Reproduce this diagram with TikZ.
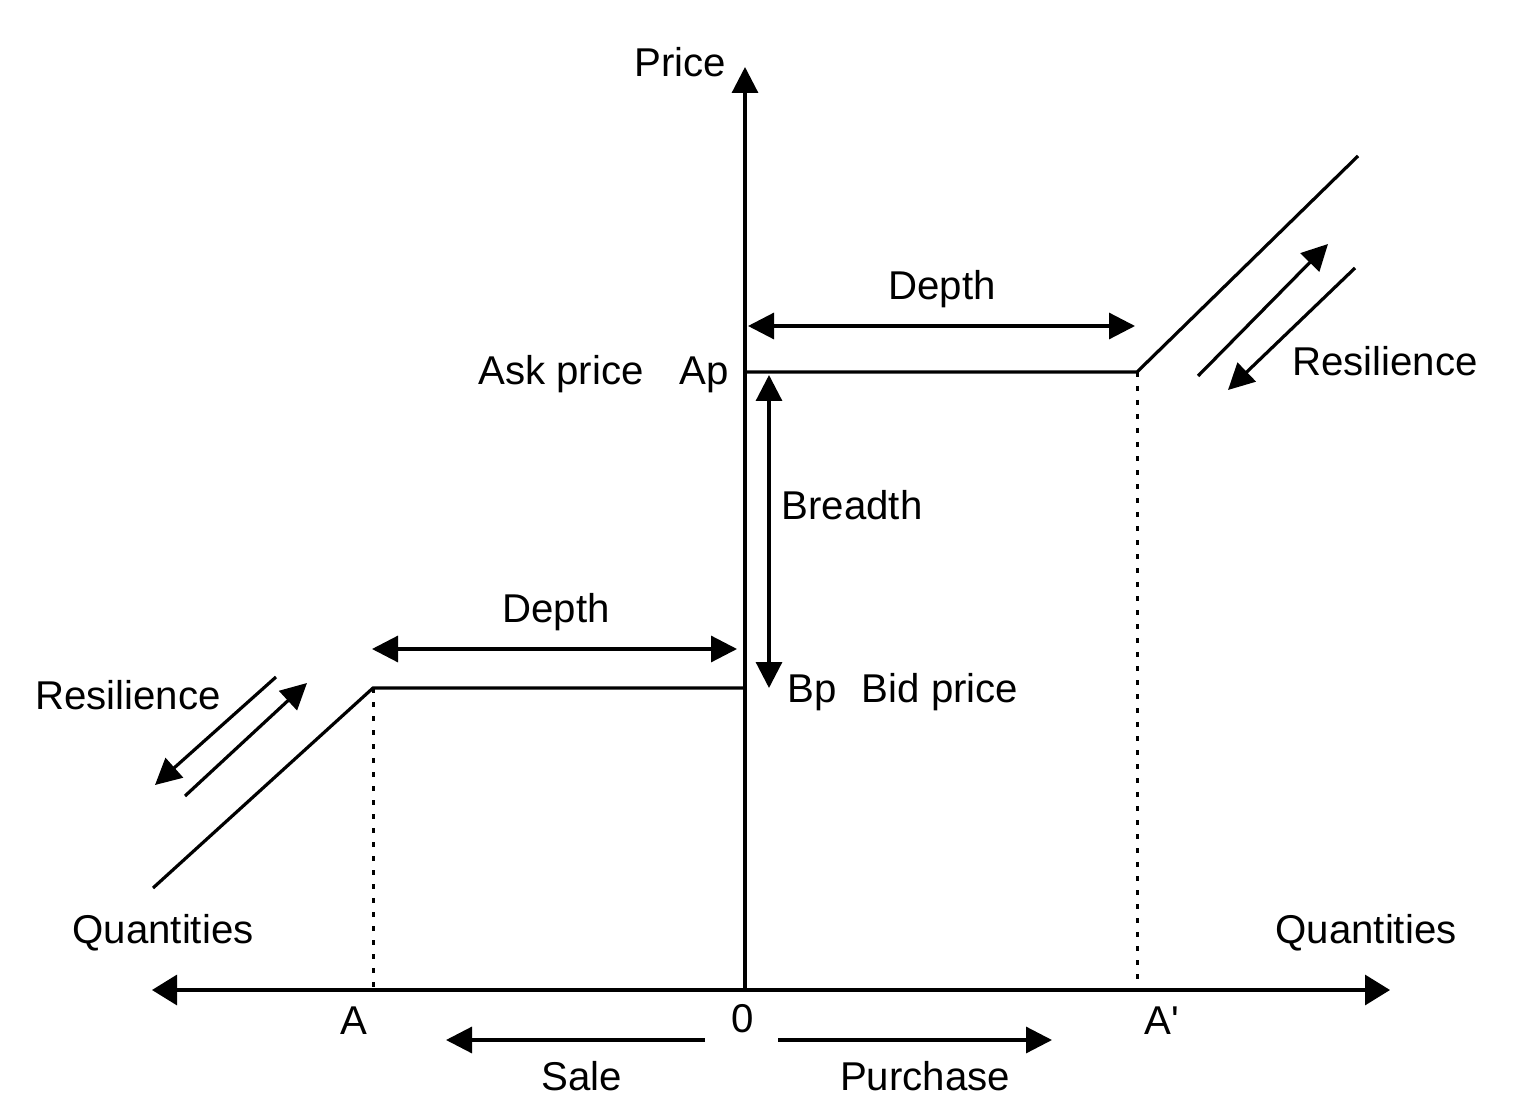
\documentclass[tikz,border=0pt]{standalone}
\usepackage{fontspec}
\setmainfont{Liberation Sans}[Ligatures=TeXOff]
\usetikzlibrary{arrows.meta}
\begin{document}
\begin{tikzpicture}[x=0.5pt,y=-0.5pt,
  ln/.style={line width=1.6pt},
  arr/.style={ln,-{Triangle[length=13pt,width=13pt]}},
  darr/.style={ln,{Triangle[length=13pt,width=13pt]}-{Triangle[length=13pt,width=13pt]}},
  axarr/.style={ln,{Triangle[length=12.5pt,width=15pt]}-{Triangle[length=12.5pt,width=15pt]}},
  dots/.style={line width=1.5pt,dash pattern=on 2.5pt off 4.5pt},
  lbl/.style={inner sep=0pt,anchor=base,font=\fontsize{20.1pt}{22pt}\selectfont}]
\useasboundingbox (0,0) rectangle (1536,1112);
% coordinates
\coordinate (O) at (745,990);
\coordinate (Ytip) at (745,67);
\coordinate (Xl) at (152,990);
\coordinate (Xr) at (1390,990);
\coordinate (Ap) at (745,372);
\coordinate (Ak) at (1137,372);
\coordinate (Aend) at (1358,156);
\coordinate (Bp) at (745,688);
\coordinate (Bk) at (373,688);
\coordinate (Bend) at (153,888);
\coordinate (Adot) at (373,990);
\coordinate (Apdot) at (1137,990);
\coordinate (d1a) at (748,326);
\coordinate (d1b) at (1135,326);
\coordinate (d2a) at (372,649);
\coordinate (d2b) at (737,649);
\coordinate (bra) at (769,375);
\coordinate (brb) at (769,688);
\coordinate (r1a) at (1198,376);
\coordinate (r1b) at (1328,244);
\coordinate (r2a) at (1355,268);
\coordinate (r2b) at (1228,390);
\coordinate (l1a) at (276,677);
\coordinate (l1b) at (155,785);
\coordinate (l2a) at (185,796);
\coordinate (l2b) at (307,683);
\coordinate (sa) at (705,1040);
\coordinate (sb) at (446,1040);
\coordinate (pa) at (778,1040);
\coordinate (pb) at (1052,1040);
% axes
\draw[axarr] (Xl) -- (Xr);
\draw[arr] (O) -- (Ytip);
% curves
\draw[ln,line join=miter] (Ap) -- (Ak) -- (Aend);
\draw[ln,line join=miter] (Bp) -- (Bk) -- (Bend);
\draw[dots] (Bk) -- (Adot);
\draw[dots] (Ak) -- (Apdot);
% arrows
\draw[darr] (d1a) -- (d1b);
\draw[darr] (d2a) -- (d2b);
\draw[darr] (bra) -- (brb);
\draw[arr] (r1a) -- (r1b);
\draw[arr] (r2a) -- (r2b);
\draw[arr] (l1a) -- (l1b);
\draw[arr] (l2a) -- (l2b);
\draw[arr] (sa) -- (sb);
\draw[arr] (pa) -- (pb);
% labels
\node[lbl] (price) at (680,77) {Price};
\node[lbl] (askp) at (561,385) {Ask price};
\node[lbl] (apl) at (704,385) {Ap};
\node[lbl] (bpl) at (812,702) {Bp};
\node[lbl] (bidp) at (940,702) {Bid price};
\node[lbl] (breadth) at (852,519) {Breadth};
\node[lbl] (depth1) at (942,300) {Depth};
\node[lbl] (depth2) at (556,622) {Depth};
\node[lbl] (res1) at (1385,376) {Resilience};
\node[lbl] (res2) at (128,709) {Resilience};
\node[lbl] (q1) at (163,943) {Quantities};
\node[lbl] (q2) at (1366,943) {Quantities};
\node[lbl] (al) at (354,1034) {A};
\node[lbl] (zl) at (743,1032) {0};
\node[lbl] (apr) at (1162,1034) {A'};
\node[lbl] (sale) at (582,1090) {Sale};
\node[lbl] (purch) at (925,1090) {Purchase};
\end{tikzpicture}
\end{document}
